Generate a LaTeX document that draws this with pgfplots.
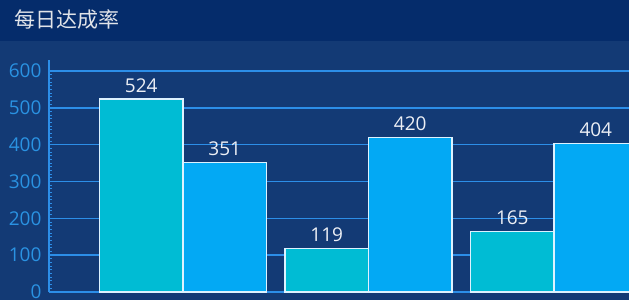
\documentclass[border=0pt]{standalone}
\usepackage{pgfplots}
\pgfplotsset{compat=1.18}
\usepackage{fontspec}
\setmainfont{Open Sans}
\newfontfamily\cjk{Noto Sans CJK SC}
\definecolor{titlebg}{HTML}{052C6B}
\definecolor{plotbg}{HTML}{133A75}
\definecolor{gridc}{HTML}{2C8EE8}
\definecolor{tickc}{HTML}{2A92E2}
\definecolor{barA}{HTML}{00BCD4}
\definecolor{barB}{HTML}{03A9F4}
\definecolor{edgec}{HTML}{DDF2FF}
\definecolor{labc}{HTML}{ECEFF5}
\begin{document}
\begin{tikzpicture}
\useasboundingbox (0pt,0pt) rectangle (629pt,300pt);
\fill[plotbg] (0pt,0pt) rectangle (629pt,300pt);
\fill[titlebg] (0pt,259pt) rectangle (629pt,300pt);
\node[anchor=west, text=labc!90!gray, font=\cjk\fontsize{21}{21}\selectfont, inner sep=0pt] at (14pt,280pt) {每日达成率};
\begin{axis}[
  at={(49pt,8pt)}, anchor=south west,
  scale only axis, width=580pt, height=232pt,
  xmin=-0.722, xmax=2.404, ymin=0, ymax=630,
  axis x line=bottom, axis y line=left,
  axis line style={gridc, line width=1.4pt, -},
  xtick=\empty,
  ytick={0,100,...,600},
  minor y tick num=9,
  ymajorgrids, major grid style={gridc, line width=1.4pt},
  tick style={gridc, line width=1pt},
  major tick length=0pt, minor tick length=3pt,
  tick align=inside,
  yticklabel style={text=tickc, font=\fontsize{19}{19}\selectfont, xshift=-4pt},
  /pgf/number format/assume math mode=true,
  ybar=0pt, bar width=83.5pt,
  clip=true,
  nodes near coords,
  nodes near coords style={text=labc, font=\fontsize{19}{19}\selectfont, anchor=south, inner sep=2pt, yshift=4pt},
]
\addplot[fill=barA, draw=edgec, line width=1.3pt] coordinates {(0,524) (1,119) (2,165)};
\addplot[fill=barB, draw=edgec, line width=1.3pt] coordinates {(0,351) (1,420) (2,404)};
\end{axis}
\end{tikzpicture}
\end{document}
